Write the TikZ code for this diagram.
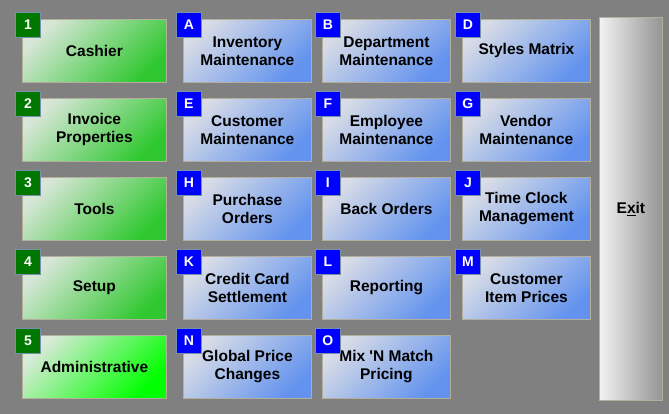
\documentclass[tikz,border=0pt]{standalone}
\usepackage{fontspec}
\setmainfont{Liberation Sans}
\usetikzlibrary{positioning}

\definecolor{panelgray}{HTML}{808080}
\definecolor{greenlight}{HTML}{D8E6D8}
\definecolor{greendark}{HTML}{30C830}
\definecolor{adminlight}{HTML}{D8EAD8}
\definecolor{admindark}{HTML}{00FF00}
\definecolor{bluelight}{HTML}{D8DCE6}
\definecolor{bluedark}{HTML}{6393EE}
\definecolor{exitlight}{HTML}{F2F2F2}
\definecolor{exitdark}{HTML}{949494}
\definecolor{edgegray}{HTML}{B4AE9C}
\definecolor{badgegreen}{HTML}{007800}
\definecolor{badgeblue}{HTML}{0000FF}
\definecolor{badgeedge}{HTML}{7890A8}

\begin{document}
\begin{tikzpicture}[x=1pt, y=-1pt,
    button/.style={anchor=north west, inner sep=0pt, minimum height=63pt,
      draw=edgegray, line width=0.8pt, align=center,
      font=\fontsize{15.5}{18}\selectfont\bfseries,
      path picture={\draw[white, line width=2pt] (path picture bounding box.south west) |- (path picture bounding box.north east);}},
    greenbtn/.style={button, minimum width=144pt, top color=greenlight, bottom color=greendark, shading angle=45},
    adminbtn/.style={button, minimum width=144pt, top color=adminlight, bottom color=admindark, shading angle=45},
    bluebtn/.style={button, minimum width=128pt, top color=bluelight, bottom color=bluedark, shading angle=45},
    badge/.style={anchor=north west, minimum size=25pt, inner sep=0pt, draw=badgeedge,
      line width=0.8pt, text=white, font=\fontsize{14}{14}\selectfont\bfseries}]

    % Panel
    \fill[panelgray] (0,0) rectangle (669,414);

    % Buttons with their hot keys
    \foreach \name/\x/\y/\kind/\tint/\key/\txt in {
        cashier/22/19/greenbtn/badgegreen/1/Cashier,
        invoice/22/98/greenbtn/badgegreen/2/{Invoice\\Properties},
        tools/22/177/greenbtn/badgegreen/3/Tools,
        setup/22/256/greenbtn/badgegreen/4/Setup,
        admin/22/335/adminbtn/badgegreen/5/Administrative,
        inventory/183/19/bluebtn/badgeblue/A/{Inventory\\Maintenance},
        department/322/19/bluebtn/badgeblue/B/{Department\\Maintenance},
        styles/462/19/bluebtn/badgeblue/D/Styles Matrix,
        customer/183/98/bluebtn/badgeblue/E/{Customer\\Maintenance},
        employee/322/98/bluebtn/badgeblue/F/{Employee\\Maintenance},
        vendor/462/98/bluebtn/badgeblue/G/{Vendor\\Maintenance},
        purchase/183/177/bluebtn/badgeblue/H/{Purchase\\Orders},
        backorders/322/177/bluebtn/badgeblue/I/Back Orders,
        timeclock/462/177/bluebtn/badgeblue/J/{Time Clock\\Management},
        creditcard/183/256/bluebtn/badgeblue/K/{Credit Card\\Settlement},
        reporting/322/256/bluebtn/badgeblue/L/Reporting,
        itemprices/462/256/bluebtn/badgeblue/M/{Customer\\Item Prices},
        globalprice/183/335/bluebtn/badgeblue/N/{Global Price\\Changes},
        mixmatch/322/335/bluebtn/badgeblue/O/{Mix \textquotesingle N Match\\Pricing}} {
      \node[\kind] (\name) at (\x,\y) {\txt};
      \node[badge, fill=\tint] (\name-key) at ([shift={(-7,-7)}]\name.north west) {\key};
    }

    % Exit
    \node[button, minimum width=63pt, minimum height=383pt, left color=exitlight, right color=exitdark] (exit) at (599,17) {E\underline{x}it};
\end{tikzpicture}
\end{document}
